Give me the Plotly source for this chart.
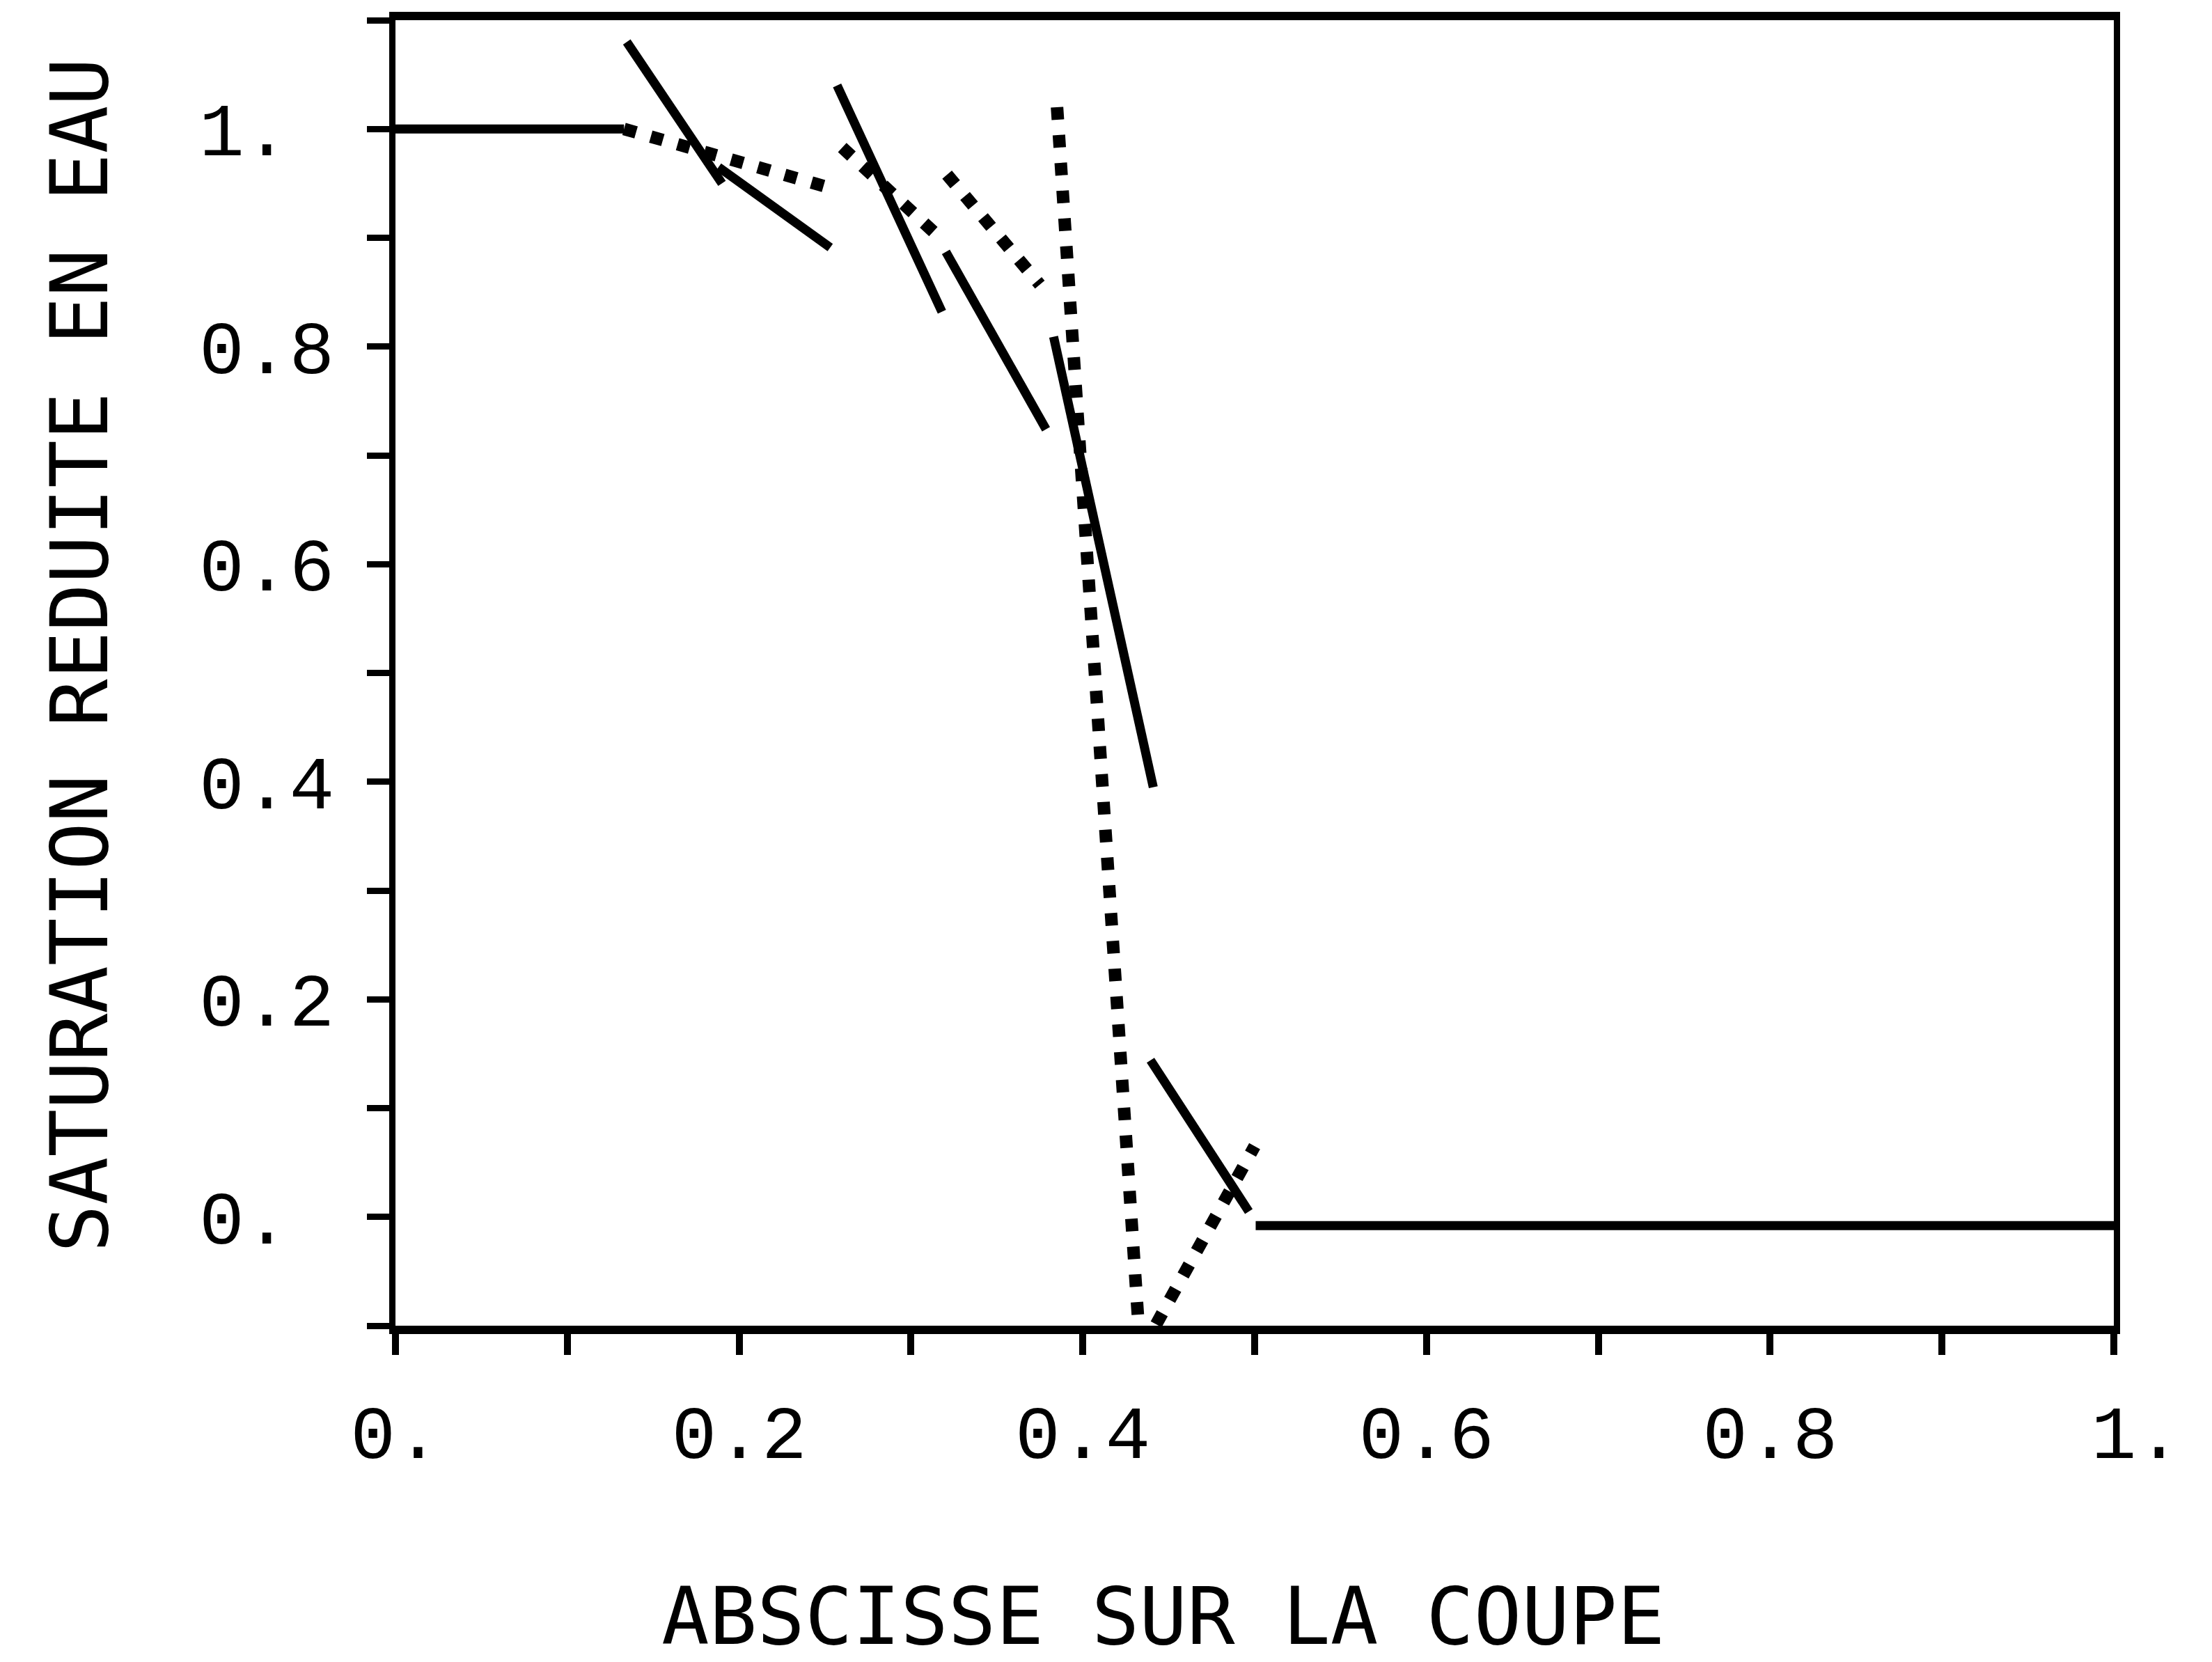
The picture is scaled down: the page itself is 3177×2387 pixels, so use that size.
import plotly.graph_objects as go

# Solid curve: piecewise-linear segments per cell (None breaks the line between cells)
solid_x = [0.0, 0.133, None,
           0.1346, 0.190, None,
           0.188, 0.253, None,
           0.257, 0.318, None,
           0.3203, 0.3786, None,
           0.383, 0.441, None,
           0.4394, 0.4966, None,
           0.5006, 1.0]
solid_y = [1.0, 1.0, None,
           1.08, 0.95, None,
           0.965, 0.891, None,
           1.04, 0.832, None,
           0.887, 0.724, None,
           0.809, 0.395, None,
           0.144, 0.005, None,
           -0.008, -0.008]

# Dotted curve: second profile, also drawn cell by cell
dotted_x = [0.133, 0.190, 0.255, None,
            0.260, 0.319, None,
            0.321, 0.375, None,
            0.385, 0.4335, 0.500]
dotted_y = [1.0, 0.973, 0.945, None,
            0.983, 0.897, None,
            0.958, 0.857, None,
            1.02, -0.125, 0.065]

# Axis ticks (every 0.1, labels every 0.2)
x_tick_values = [0.0, 0.1, 0.2, 0.3, 0.4, 0.5, 0.6, 0.7, 0.8, 0.9, 1.0]
x_tick_labels = ["0.", "", "0.2", "", "0.4", "", "0.6", "", "0.8", "", "\u00a01."]
y_tick_values = [-0.1, 0.0, 0.1, 0.2, 0.3, 0.4, 0.5, 0.6, 0.7, 0.8, 0.9, 1.0, 1.1]
y_tick_labels = ["", "0.\u00a0", "", "0.2", "", "0.4", "", "0.6", "", "0.8", "", "1.\u00a0", ""]

x_title = "ABSCISSE SUR LA COUPE"
y_title = "SATURATION REDUITE EN EAU"

W, H = 3177, 2387
M_L, M_R, M_T, M_B = 568, 141, 29, 483

fig = go.Figure()
fig.add_trace(go.Scatter(
    x=solid_x, y=solid_y, mode="lines",
    line=dict(color="black", width=13),
    connectgaps=False, showlegend=False, hoverinfo="skip"))
fig.add_trace(go.Scatter(
    x=dotted_x, y=dotted_y, mode="lines",
    line=dict(color="black", width=18, dash="18px,22px"),
    connectgaps=False, showlegend=False, hoverinfo="skip"))

tick_font = dict(family="Liberation Mono, Courier New, monospace", size=108, color="black")
title_font = dict(family="DejaVu Sans Mono, monospace", size=114, color="black")

fig.update_xaxes(
    range=[0, 1], showgrid=False, zeroline=False,
    showline=True, linecolor="black", linewidth=12, mirror=True,
    tickmode="array", tickvals=x_tick_values, ticktext=x_tick_labels,
    ticks="outside", ticklen=30, tickwidth=10, tickcolor="black",
    tickfont=tick_font, ticklabelstandoff=18)
fig.update_yaxes(
    range=[-0.1, 1.1], showgrid=False, zeroline=False,
    showline=True, linecolor="black", linewidth=9, mirror=True,
    tickmode="array", tickvals=y_tick_values, ticktext=y_tick_labels,
    ticks="outside", ticklen=32, tickwidth=9, tickcolor="black",
    tickfont=tick_font, ticklabelstandoff=25)

fig.add_annotation(
    text=x_title, xref="paper", yref="paper",
    x=0.4467, y=-0.2229, xanchor="center", yanchor="middle",
    showarrow=False, font=title_font)
fig.add_annotation(
    text=y_title, xref="paper", yref="paper",
    x=-0.184, y=0.5136, xanchor="center", yanchor="middle",
    textangle=-90, showarrow=False, font=title_font)

fig.update_layout(
    width=W, height=H,
    margin=dict(l=M_L, r=M_R, t=M_T, b=M_B),
    paper_bgcolor="white", plot_bgcolor="white")

fig.write_html("out.html")
